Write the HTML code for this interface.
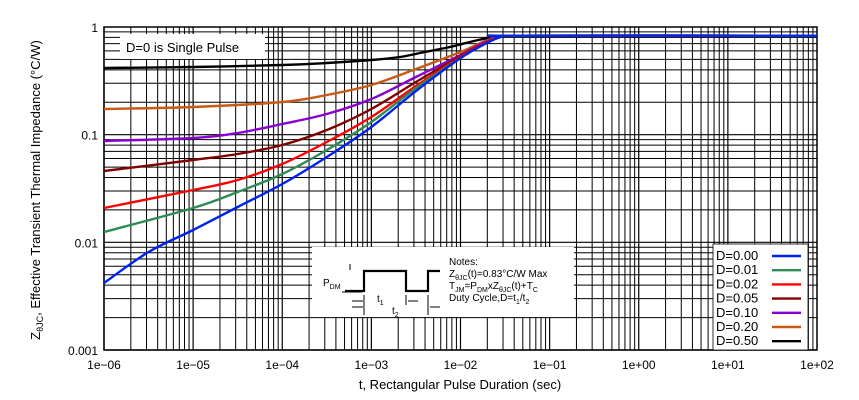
<!DOCTYPE html>
<html><head><meta charset="utf-8"><style>
body{margin:0;background:#fff;}
svg{display:block;font-family:"Liberation Sans",sans-serif;}
</style></head><body>
<svg id="s" width="859" height="400" xmlns="http://www.w3.org/2000/svg"></svg>
<script>
const L=104,R=817,T=27,B=350;
const X=lt=>L+(lt+6)*(R-L)/8, Y=lz=>T+(-lz)*(B-T)/3;
let h='';
for(let d=-6;d<2;d++)for(let k=1;k<10;k++){const x=X(d+Math.log10(k));h+=`<line x1="${x}" y1="${T}" x2="${x}" y2="${B}" stroke="#000" stroke-width="${k==1?1.2:1}"/>`;}
for(let d=-3;d<0;d++)for(let k=1;k<10;k++){const y=Y(d+Math.log10(k));h+=`<line x1="${L}" y1="${y}" x2="${R}" y2="${y}" stroke="#000" stroke-width="${k==1?1.2:1}"/>`;}
h+=`<rect x="${L}" y="${T}" width="${R-L}" height="${B-T}" fill="none" stroke="#000" stroke-width="1.5"/>`;
h+=`<rect x="120" y="34" width="145" height="25" fill="#fff"/><text x="126" y="52" font-size="13">D=0 is Single Pulse</text>`;
h+=`<rect x="312" y="247" width="262" height="70" fill="#fff"/>`;
const C=[
['#000',[[-6,68],[-5,67],[-4,65],[-3.5,63],[-3,60],[-2.68,57],[-2.4,52],[-2.12,47],[-1.8,40],[-1.55,36],[-1.4,35.7],[2,35.7]]],
['#c85a14',[[-6,109],[-5,107],[-4,102],[-3.5,95],[-3,85],[-2.5,69],[-2,52],[-1.75,42],[-1.55,36.5],[-1.4,35.7],[2,35.7]]],
['#8a00d0',[[-6,141],[-5,138],[-4.5,133],[-4,124],[-3.5,114],[-3,99],[-2.5,77],[-2,55],[-1.75,43],[-1.55,37],[-1.4,35.7],[2,35.7]]],
['#800000',[[-6,171],[-5,160],[-4.5,154],[-4,145],[-3.5,130],[-3,109],[-2.5,82],[-2,56],[-1.75,44],[-1.55,37],[-1.4,35.7],[2,35.7]]],
['#ff0000',[[-6,208],[-5,190],[-4.5,180],[-4,164],[-3.5,142],[-3,117],[-2.5,86],[-2,57],[-1.75,44],[-1.55,37],[-1.4,35.7],[2,35.7]]],
['#2e8b57',[[-6,232],[-5,208],[-4.5,192],[-4,174],[-3.5,150],[-3,122],[-2.5,88],[-2,58],[-1.75,45],[-1.55,37],[-1.4,35.7],[2,35.7]]],
['#0022ee',[[-6,283],[-5.5,252],[-5,230],[-4.5,207],[-4,184],[-3.5,157],[-3,127],[-2.5,91],[-2,58],[-1.75,45],[-1.55,37],[-1.4,35.7],[2,35.7]]]
];
function path(p){let s='M'+X(p[0][0])+','+p[0][1];for(let i=0;i<p.length-1;i++){const p0=p[Math.max(0,i-1)],p1=p[i],p2=p[i+1],p3=p[Math.min(p.length-1,i+2)];
const x=q=>X(q[0]);s+=` C${x(p1)+(x(p2)-x(p0))/6},${p1[1]+(p2[1]-p0[1])/6} ${x(p2)-(x(p3)-x(p1))/6},${p2[1]-(p3[1]-p1[1])/6} ${x(p2)},${p2[1]}`;}return s;}
C.forEach(c=>h+=`<path d="${path(c[1])}" fill="none" stroke="${c[0]}" stroke-width="2.4"/>`);
h+=`<path d="M345,291 H364 V271 H406 V291 H428 V271 H440" fill="none" stroke="#000" stroke-width="2.2"/>`;
h+=`<line x1="350" y1="264" x2="350" y2="270" stroke="#000"/><line x1="342" y1="292" x2="362" y2="292" stroke="#000"/>`;
h+=`<line x1="352" y1="301" x2="363" y2="301" stroke="#000"/><line x1="352" y1="307" x2="363" y2="307" stroke="#000"/>`;
h+=`<line x1="364" y1="295" x2="364" y2="315" stroke="#000"/><line x1="406" y1="295" x2="406" y2="305" stroke="#000"/><line x1="428" y1="295" x2="428" y2="315" stroke="#000"/>`;
h+=`<line x1="408" y1="301" x2="418" y2="301" stroke="#000"/><line x1="430" y1="307" x2="440" y2="307" stroke="#000"/>`;
h+=`<text x="323" y="286" font-size="10">P<tspan font-size="7" dy="3">DM</tspan></text>`;
h+=`<text x="377" y="302" font-size="10">t<tspan font-size="7" dy="3">1</tspan></text><text x="392" y="314" font-size="10">t<tspan font-size="7" dy="3">2</tspan></text>`;
h+=`<g font-size="10"><text x="449" y="265">Notes:</text><text x="449" y="277">Z<tspan font-size="7" dy="3">θJC</tspan><tspan dy="-3">(t)=0.83°C/W Max</tspan></text>
<text x="449" y="289">T<tspan font-size="7" dy="3">JM</tspan><tspan dy="-3">=P</tspan><tspan font-size="7" dy="3">DM</tspan><tspan dy="-3">xZ</tspan><tspan font-size="7" dy="3">θJC</tspan><tspan dy="-3">(t)+T</tspan><tspan font-size="7" dy="3">C</tspan></text>
<text x="449" y="301">Duty Cycle,D=t<tspan font-size="7" dy="3">1</tspan><tspan dy="-3">/t</tspan><tspan font-size="7" dy="3">2</tspan></text></g>`;
h+=`<rect x="713" y="244" width="95" height="106" fill="#fff" stroke="#000" stroke-width="0.8"/>`;
const lg=[['D=0.00','#0022ee'],['D=0.01','#2e8b57'],['D=0.02','#ff0000'],['D=0.05','#800000'],['D=0.10','#8a00d0'],['D=0.20','#c85a14'],['D=0.50','#000']];
lg.forEach((e,i)=>{const y=256+i*14.2;h+=`<text x="716" y="${y+4}" font-size="13">${e[0]}</text><line x1="772" y1="${y}" x2="801" y2="${y}" stroke="${e[1]}" stroke-width="2.4"/>`;});
['1e−06','1e−05','1e−04','1e−03','1e−02','1e−01','1e+00','1e+01','1e+02'].forEach((t,i)=>h+=`<text x="${X(i-6)}" y="369" font-size="12" text-anchor="middle">${t}</text>`);
[['1',-0],['0.1',-1],['0.01',-2],['0.001',-3]].forEach(e=>h+=`<text x="98" y="${Y(e[1])+5}" font-size="12" text-anchor="end">${e[0]}</text>`);
h+=`<text x="460" y="389" font-size="13" text-anchor="middle">t, Rectangular Pulse Duration (sec)</text>`;
h+=`<text transform="translate(40,190) rotate(-90)" font-size="13" text-anchor="middle">Z<tspan font-size="9" dy="3">θJC</tspan><tspan dy="-3">, Effective Transient Thermal Impedance (°C/W)</tspan></text>`;
document.getElementById('s').innerHTML=h;
</script>
</body></html>
